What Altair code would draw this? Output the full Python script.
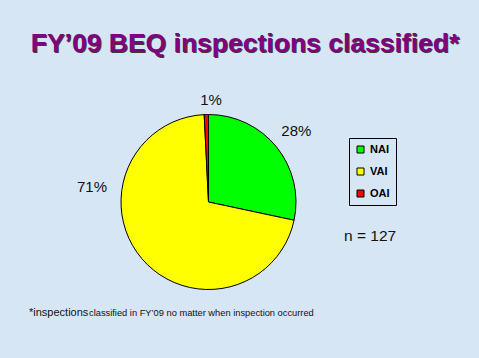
import altair as alt
import pandas as pd

categories = ["NAI", "VAI", "OAI"]
counts = [36, 90, 1]
labels = ["28%", "71%", "1%"]
colors = ["#00ff00", "#ffff00", "#ff0000"]
order = [0, 1, 2]

df = pd.DataFrame({"cat": categories, "count": counts, "label": labels, "ord": order})

CX, CY, R = 208.5, 202, 87.5

color = alt.Color("cat:N", scale=alt.Scale(domain=categories, range=colors),
                  legend=alt.Legend(title=None, orient="none", legendX=349, legendY=138,
                                    symbolType="square", symbolSize=49,
                                    symbolStrokeColor="black", symbolStrokeWidth=1,
                                    labelFont="Liberation Sans", labelFontSize=11,
                                    labelFontWeight="bold", labelColor="#000000",
                                    strokeColor="black", padding=6, rowPadding=10,
                                    labelOffset=4))

base = alt.Chart(df).encode(
    theta=alt.Theta("count:Q", stack=True),
    order=alt.Order("ord:Q"),
)

pie = base.mark_arc(outerRadius=R, stroke="black", strokeWidth=1).encode(
    color=color, x=alt.value(CX), y=alt.value(CY))

pie_labels = base.mark_text(font="Liberation Sans", fontSize=15, color="#111111").encode(
    text="label:N", x=alt.value(CX), y=alt.value(CY),
    radius=alt.Radius("rad:Q", scale=None),
).transform_calculate(rad="datum.cat == 'NAI' ? 113 : 102").transform_filter("datum.cat != 'VAI'")

vai_label = alt.Chart(df).transform_filter("datum.cat == 'VAI'").mark_text(
    font="Liberation Sans", fontSize=15, color="#111111").encode(
    text="label:N", x=alt.value(92), y=alt.value(187))

title_text = "FY\u201909 BEQ inspections classified*"
title_shadow = alt.Chart(pd.DataFrame({"t": [title_text]})).mark_text(
    font="Liberation Sans", fontSize=26.5, fontWeight="bold", color="#3a3a3a", baseline="alphabetic"
).encode(text="t:N", x=alt.value(246), y=alt.value(53))
title = alt.Chart(pd.DataFrame({"t": [title_text]})).mark_text(
    font="Liberation Sans", fontSize=26.5, fontWeight="bold", color="#800080", baseline="alphabetic"
).encode(text="t:N", x=alt.value(245), y=alt.value(52))

n_text = alt.Chart(pd.DataFrame({"t": ["n = 127"]})).mark_text(
    font="Liberation Sans", fontSize=15.5, color="#111111", align="left", baseline="alphabetic"
).encode(text="t:N", x=alt.value(344), y=alt.value(241))

foot1 = alt.Chart(pd.DataFrame({"t": ["*inspections"]})).mark_text(
    font="Liberation Sans", fontSize=11, color="#111111", align="left", baseline="alphabetic"
).encode(text="t:N", x=alt.value(29), y=alt.value(316))
foot2 = alt.Chart(pd.DataFrame({"t": ["classified in FY\u201909 no matter when inspection occurred"]})).mark_text(
    font="Liberation Sans", fontSize=9.3, color="#111111", align="left", baseline="alphabetic"
).encode(text="t:N", x=alt.value(89), y=alt.value(316))

chart = alt.layer(pie, pie_labels, vai_label, title_shadow, title, n_text, foot1, foot2).properties(
    width=479, height=358, background="#d7e6f4", padding=0,
    autosize=alt.AutoSizeParams(type="none"),
).configure_view(stroke=None)

chart.save("out.html", embed_options={"renderer": "svg", "actions": False})
